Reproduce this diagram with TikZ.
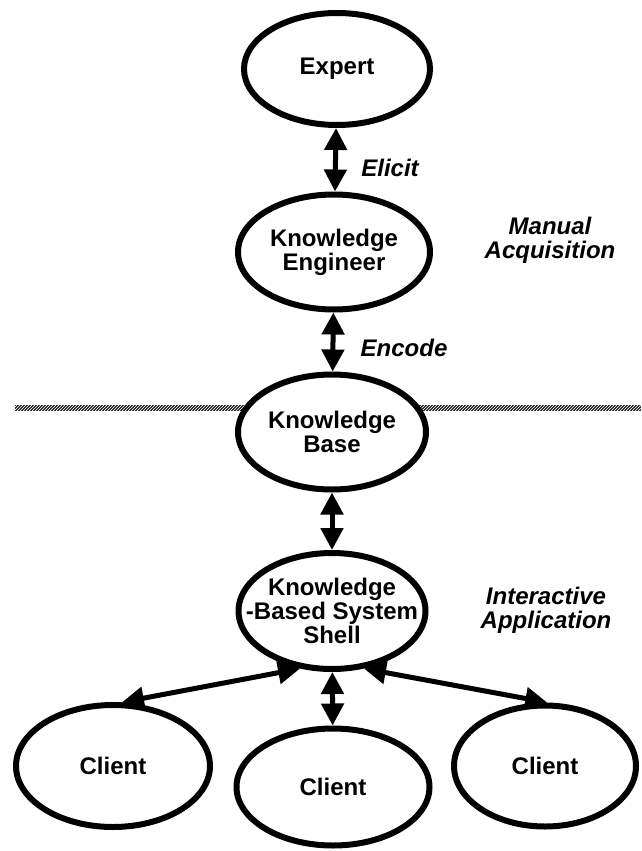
\documentclass[tikz,border=0pt]{standalone}
\usepackage{fontspec}
\setmainfont{Liberation Sans}
\usetikzlibrary{arrows.meta,shapes,patterns,backgrounds}

\begin{document}
\begin{tikzpicture}
	[x=1pt,y=-1pt,
	blob/.style={shape=ellipse,draw=black,fill=white,line width=6pt,inner sep=0pt},
	txt/.style={align=center,font=\fontsize{24}{24}\selectfont\bfseries},
	link/.style={line width=5pt,
		{Triangle[length=22pt,width=22pt]}-{Triangle[length=22pt,width=22pt]}},
	note/.style={align=center,font=\fontsize{24}{24}\selectfont\bfseries\itshape}]
	\useasboundingbox (0,0) rectangle (641,851);
	
	\node (expert) [blob,minimum width=186pt,minimum height=112pt,
		label={[txt]center:Expert}] at (337,69) {};
	\node (engineer) [blob,minimum width=192pt,minimum height=115pt,
		label={[txt]center:Knowledge\\Engineer}] at (334,252) {};
	\node (base) [blob,minimum width=188pt,minimum height=115pt,
		label={[txt]center:Knowledge\\Base}] at (332,432) {};
	\node (shell) [blob,minimum width=187pt,minimum height=116pt,
		label={[txt]center:Knowledge\\-Based System\\Shell}] at (332,611) {};
	
	\node (client1) [blob,minimum width=194pt,minimum height=122pt,
		label={[txt]center:Client}] at (113,766) {};
	\node (client2) [blob,minimum width=193pt,minimum height=117pt,
		label={[txt]center:Client}] at (333,787) {};
	\node (client3) [blob,minimum width=182pt,minimum height=121pt,
		label={[txt]center:Client}] at (545,766) {};
	
	\node (elicit) [note] at (390,168) {Elicit};
	\node (encode) [note] at (404,348) {Encode};
	\node (manual) [note] at (550,240) {Manual\\Acquisition};
	\node (interactive) [note] at (546,610) {Interactive\\Application};
	
	% dividing line behind the knowledge base
	\begin{scope}[on background layer]
	\coordinate (cutL) at (15,405);
	\coordinate (cutR) at (641,411);
	\fill [black!85] (cutL) rectangle (cutR);
	\path [pattern=north east lines,pattern color=white] (cutL) rectangle (cutR);
	\end{scope}
	
	\draw [link] (expert) -- (engineer);
	\draw [link] (engineer) -- (base);
	\draw [link] (base) -- (shell);
	\draw [link] (shell.241) -- (client1.82);
	\draw [link] (shell) -- (client2);
	\draw [link] (shell.299) -- (client3.88);
\end{tikzpicture}
\end{document}
